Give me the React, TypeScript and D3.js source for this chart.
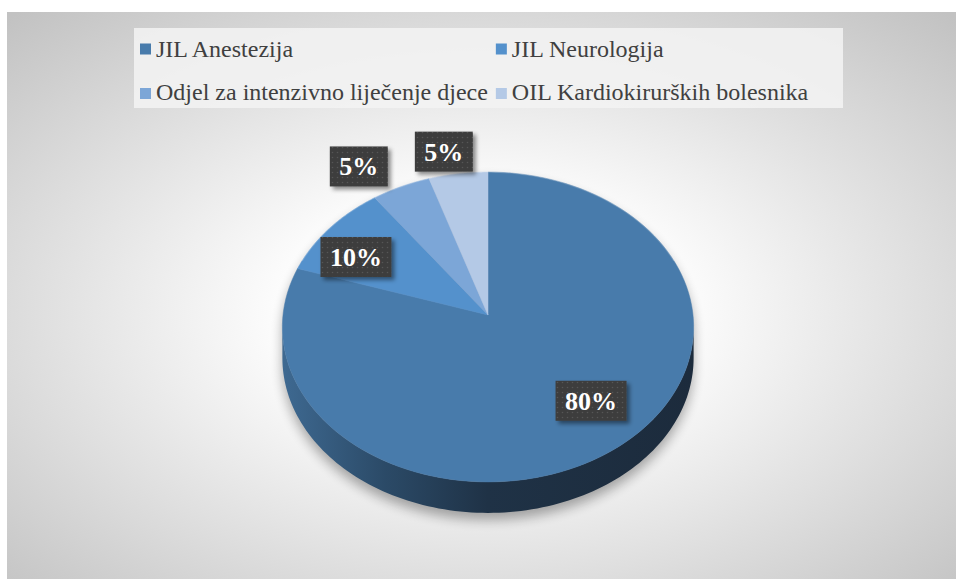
import React, { useEffect, useRef } from "react";
import * as d3 from "d3";

const categories = [
  "JIL Anestezija",
  "JIL Neurologija",
  "Odjel za intenzivno liječenje djece",
  "OIL Kardiokirurških bolesnika",
];
const shares = [80, 10, 5, 5];
const labels = ["80%", "10%", "5%", "5%"];
const colors = ["#487bab", "#5491cc", "#7ca6d7", "#b4c9e6"];

const FONT = "Liberation Serif";

export default function App() {
  const ref = useRef<SVGSVGElement>(null);

  useEffect(() => {
    const W = 956, H = 581;
    const svg = d3.select(ref.current);
    svg.selectAll("*").remove();
    const defs = svg.append("defs");

    // background
    const bg = defs.append("radialGradient").attr("id", "bg")
      .attr("cx", 0.5).attr("cy", 0.53).attr("r", 0.72);
    bg.append("stop").attr("offset", 0).attr("stop-color", "#ffffff");
    bg.append("stop").attr("offset", 0.3).attr("stop-color", "#fcfcfc");
    bg.append("stop").attr("offset", 1).attr("stop-color", "#c2c2c2");

    svg.append("rect").attr("width", W).attr("height", H).attr("fill", "#fff");
    svg.append("rect").attr("x", 7).attr("y", 12).attr("width", W - 7).attr("height", 567)
      .attr("fill", "url(#bg)");

    // pie geometry (perspective ellipse)
    const cx = 488, cy = 315, rx = 205, ry = 154, persp = 0.0774, depth = 31;
    const project = (theta: number, fx = 1, fy = 1): [number, number] => {
      const u = Math.sin(theta) * fx;
      const v = -Math.cos(theta) * fy;
      const k = 1 - persp * v;
      return [cx + (rx * u) / k, cy + (ry * v) / k];
    };
    const line = d3.line();
    const arcPts = (a0: number, a1: number, n = 120) =>
      d3.range(n + 1).map((i) => project(a0 + ((a1 - a0) * i) / n));

    const pie = d3.pie<number>().sort(null).value((d) => d);
    const arcs = pie(shares);

    // side (front band)
    const thR = Math.acos(-persp);
    const thL = 2 * Math.PI - thR;
    const front = arcPts(thR, thL);
    const sidePts = front.concat(front.slice().reverse().map(([x, y]) => [x, y + depth] as [number, number]));
    const sidePath = line(sidePts) + "Z";
    const topPath = line(arcPts(0, 2 * Math.PI, 240)) + "Z";

    // shadow
    const sh = defs.append("filter").attr("id", "pieShadow")
      .attr("x", "-20%").attr("y", "-20%").attr("width", "140%").attr("height", "140%");
    sh.append("feGaussianBlur").attr("stdDeviation", 6);
    const shG = svg.append("g").attr("filter", "url(#pieShadow)")
      .attr("transform", "translate(0,7)").attr("opacity", 0.32);
    shG.append("path").attr("d", topPath).attr("fill", "#000");
    shG.append("path").attr("d", sidePath).attr("fill", "#000");

    const sideGrad = defs.append("linearGradient").attr("id", "side")
      .attr("gradientUnits", "userSpaceOnUse")
      .attr("x1", cx - rx).attr("x2", cx + rx).attr("y1", 0).attr("y2", 0);
    sideGrad.append("stop").attr("offset", 0).attr("stop-color", "#3e6991");
    sideGrad.append("stop").attr("offset", 0.25).attr("stop-color", "#2b4a67");
    sideGrad.append("stop").attr("offset", 0.5).attr("stop-color", "#1f3246");
    sideGrad.append("stop").attr("offset", 1).attr("stop-color", "#1c2b3c");
    svg.append("path").attr("d", sidePath).attr("fill", "url(#side)");

    // top face slices
    svg.append("g").selectAll("path").data(arcs).join("path")
      .attr("d", (d) => line([[cx, cy] as [number, number]].concat(arcPts(d.startAngle, d.endAngle))) + "Z")
      .attr("fill", (d, i) => colors[i])
      .attr("stroke", (d, i) => colors[i]).attr("stroke-width", 0.5);
    svg.append("path").attr("d", line(arcPts(-1.2, 1.2)))
      .attr("fill", "none").attr("stroke", "#ffffff").attr("stroke-opacity", 0.15).attr("stroke-width", 1.5);

    // data labels
    const pat = defs.append("pattern").attr("id", "dots")
      .attr("patternUnits", "userSpaceOnUse").attr("width", 5).attr("height", 5);
    pat.append("rect").attr("width", 5).attr("height", 5).attr("fill", "#3d3d3d");
    pat.append("circle").attr("cx", 2.5).attr("cy", 2.5).attr("r", 0.8).attr("fill", "#575757");
    const ds = defs.append("filter").attr("id", "boxShadow")
      .attr("x", "-30%").attr("y", "-30%").attr("width", "160%").attr("height", "160%");
    ds.append("feDropShadow").attr("dx", 3).attr("dy", 3).attr("stdDeviation", 2)
      .attr("flood-color", "#000").attr("flood-opacity", 0.45);

    arcs.forEach((d, i) => {
      const mid = (d.startAngle + d.endAngle) / 2;
      const inside = shares[i] >= 10;
      const [lx, ly] = inside ? project(mid, 0.82, 0.66) : project(mid, 1.5, 1.17);
      const g = svg.append("g");
      const rect = g.append("rect").attr("fill", "url(#dots)").attr("filter", "url(#boxShadow)");
      const t = g.append("text").attr("x", lx).attr("y", ly + 9)
        .attr("text-anchor", "middle").style("font-family", FONT).style("font-weight", "bold")
        .style("font-size", "26px").attr("fill", "#ffffff").text(labels[i]);
      const tw = (t.node() as SVGTextElement).getComputedTextLength();
      const bw = tw + 19, bh = 40;
      rect.attr("x", lx - bw / 2).attr("y", ly - bh / 2).attr("width", bw).attr("height", bh);
    });

    // legend
    svg.append("rect").attr("x", 134).attr("y", 28).attr("width", 709).attr("height", 80)
      .attr("fill", "#f2f2f2").attr("opacity", 0.88);
    const leg = svg.append("g");
    const texts = categories.map((c, i) => {
      const row = Math.floor(i / 2);
      return leg.append("text").attr("y", 57 + row * 43)
        .style("font-family", FONT).style("font-size", "24px").attr("fill", "#404040").text(c);
    });
    const col1W = Math.max(
      (texts[0].node() as SVGTextElement).getComputedTextLength(),
      (texts[2].node() as SVGTextElement).getComputedTextLength()
    );
    const colX = [140, 140 + 16 + col1W + 8];
    categories.forEach((c, i) => {
      const row = Math.floor(i / 2), col = i % 2;
      leg.append("rect").attr("x", colX[col]).attr("y", 43.5 + row * 44.5)
        .attr("width", 11).attr("height", 11).attr("fill", colors[i]);
      texts[i].attr("x", colX[col] + 16);
    });
  }, []);

  return (
    <svg ref={ref} width={956} height={581}
      style={{ position: "absolute", left: 0, top: 0, display: "block" }} />
  );
}
